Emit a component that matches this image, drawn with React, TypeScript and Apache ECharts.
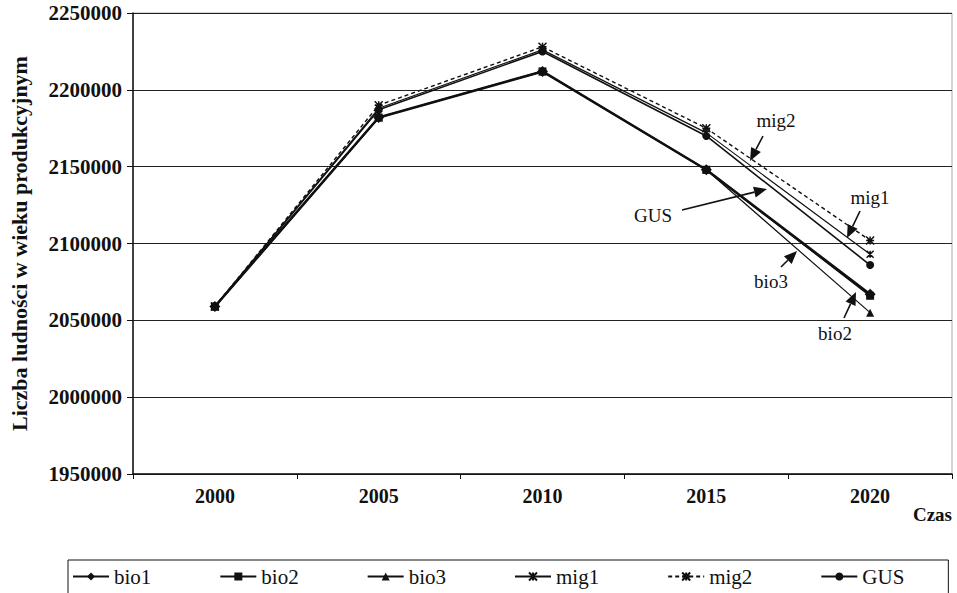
import React, { useEffect, useRef } from "react";
import * as echarts from "echarts";

const years = ["2000", "2005", "2010", "2015", "2020"];
const bio1 = [2059000, 2182000, 2212000, 2148000, 2067000];
const bio2 = [2059000, 2182000, 2212000, 2148000, 2066000];
const bio3 = [2059000, 2182000, 2212000, 2148000, 2055000];
const mig1 = [2059000, 2188000, 2226000, 2172000, 2093000];
const mig2 = [2059000, 2190000, 2228000, 2175000, 2102000];
const gus = [2059000, 2187000, 2225000, 2170000, 2086000];

const yMin = 1950000;
const yMax = 2250000;
const yStep = 50000;

const FONT = "'Liberation Serif', 'DejaVu Serif', serif";

function arrow(x1: number, y1: number, x2: number, y2: number) {
  const dx = x2 - x1;
  const dy = y2 - y1;
  const len = Math.sqrt(dx * dx + dy * dy);
  const ux = dx / len;
  const uy = dy / len;
  const hl = 13;
  const hw = 5.5;
  const bx = x2 - ux * hl;
  const by = y2 - uy * hl;
  return [
    {
      type: "line",
      shape: { x1, y1, x2: bx, y2: by },
      style: { stroke: "#111", lineWidth: 1.6 },
      z: 100,
    },
    {
      type: "polygon",
      shape: {
        points: [
          [x2, y2],
          [bx - uy * hw, by + ux * hw],
          [bx + uy * hw, by - ux * hw],
        ],
      },
      style: { fill: "#111" },
      z: 100,
    },
  ];
}

function label(text: string, x: number, y: number) {
  return {
    type: "text",
    x,
    y,
    style: {
      text,
      fill: "#111",
      font: `19px ${FONT}`,
      align: "center",
      verticalAlign: "middle",
    },
    z: 100,
  };
}

export default function App() {
  const ref = useRef<HTMLDivElement>(null);
  useEffect(() => {
    if (!ref.current) return;
    const chart = echarts.init(ref.current, null, { renderer: "svg" });
    const xPath = "path://M0,0L10,10M10,0L0,10M5,0L5,10";
    const starPath = "path://M0,0L10,10M10,0L0,10M0,5L10,5M5,0L5,10";
    const mk = (
      name: string,
      data: number[],
      symbol: string,
      size: number,
      width: number,
      type: any = "solid"
    ) => ({
      name,
      type: "line",
      data,
      symbol,
      symbolSize: size,
      lineStyle: { color: "#111", width, type },
      itemStyle: {
        color: "#111",
        borderColor: "#111",
        borderWidth: symbol.startsWith("path") ? 1.5 : 0,
      },
      z: 3,
    });
    chart.setOption({
      animation: false,
      backgroundColor: "#fff",
      textStyle: { fontFamily: FONT },
      grid: {
        left: 130,
        right: 5,
        top: 13,
        bottom: 119,
        show: true,
        borderColor: "#aaa",
        borderWidth: 1,
      },
      legend: {
        left: 68,
        top: 560,
        width: 860,
        padding: [6, 44, 10, 4],
        borderColor: "#111",
        borderWidth: 1,
        itemGap: 68,
        itemWidth: 36,
        itemHeight: 10,
        textStyle: { fontFamily: FONT, fontSize: 21, color: "#111" },
        data: ["bio1", "bio2", "bio3", "mig1", "mig2", "GUS"],
      },
      xAxis: {
        type: "category",
        data: years,
        boundaryGap: true,
        axisLine: { lineStyle: { color: "#111", width: 1.5 } },
        axisTick: { show: true, length: 5, lineStyle: { color: "#111" } },
        axisLabel: {
          color: "#111",
          fontFamily: FONT,
          fontWeight: "bold",
          fontSize: 20,
          margin: 12,
        },
      },
      yAxis: {
        type: "value",
        min: yMin,
        max: yMax,
        interval: yStep,
        name: "Liczba ludności w wieku produkcyjnym",
        nameLocation: "middle",
        nameGap: 103,
        nameTextStyle: {
          color: "#111",
          fontFamily: FONT,
          fontWeight: "bold",
          fontSize: 22,
        },
        axisLine: { show: true, lineStyle: { color: "#111", width: 1.5 } },
        axisTick: { show: true, length: 6, lineStyle: { color: "#111" } },
        axisLabel: {
          color: "#111",
          fontFamily: FONT,
          fontWeight: "bold",
          fontSize: 21,
          margin: 11,
          formatter: (v: number) => String(v),
        },
        splitLine: { lineStyle: { color: "#222", width: 1.2 } },
      },
      series: [
        mk("bio1", bio1, "diamond", 11, 2.6),
        mk("bio2", bio2, "rect", 8, 1.6),
        mk("bio3", bio3, "triangle", 8, 1.2),
        mk("mig1", mig1, xPath, 7, 1.2),
        mk("mig2", mig2, starPath, 8, 1.4, [4, 3]),
        mk("GUS", gus, "circle", 8, 1.6),
      ],
      graphic: [
        {
          type: "text",
          x: 952,
          y: 514,
          style: {
            text: "Czas",
            fill: "#111",
            font: `bold 19px ${FONT}`,
            align: "right",
            verticalAlign: "middle",
          },
        },
        label("mig2", 776, 120),
        ...arrow(763, 136, 750, 161),
        label("mig1", 870, 197),
        ...arrow(860, 211, 847, 238),
        label("GUS", 653, 215),
        ...arrow(682, 210, 767, 189),
        label("bio3", 771, 281),
        ...arrow(781, 267, 797, 251),
        label("bio2", 835, 333),
        ...arrow(844, 318, 856, 292),
      ],
    });
    return () => chart.dispose();
  }, []);
  return (
    <div
      ref={ref}
      style={{ position: "absolute", left: 0, top: 0, width: 957, height: 593 }}
    />
  );
}
